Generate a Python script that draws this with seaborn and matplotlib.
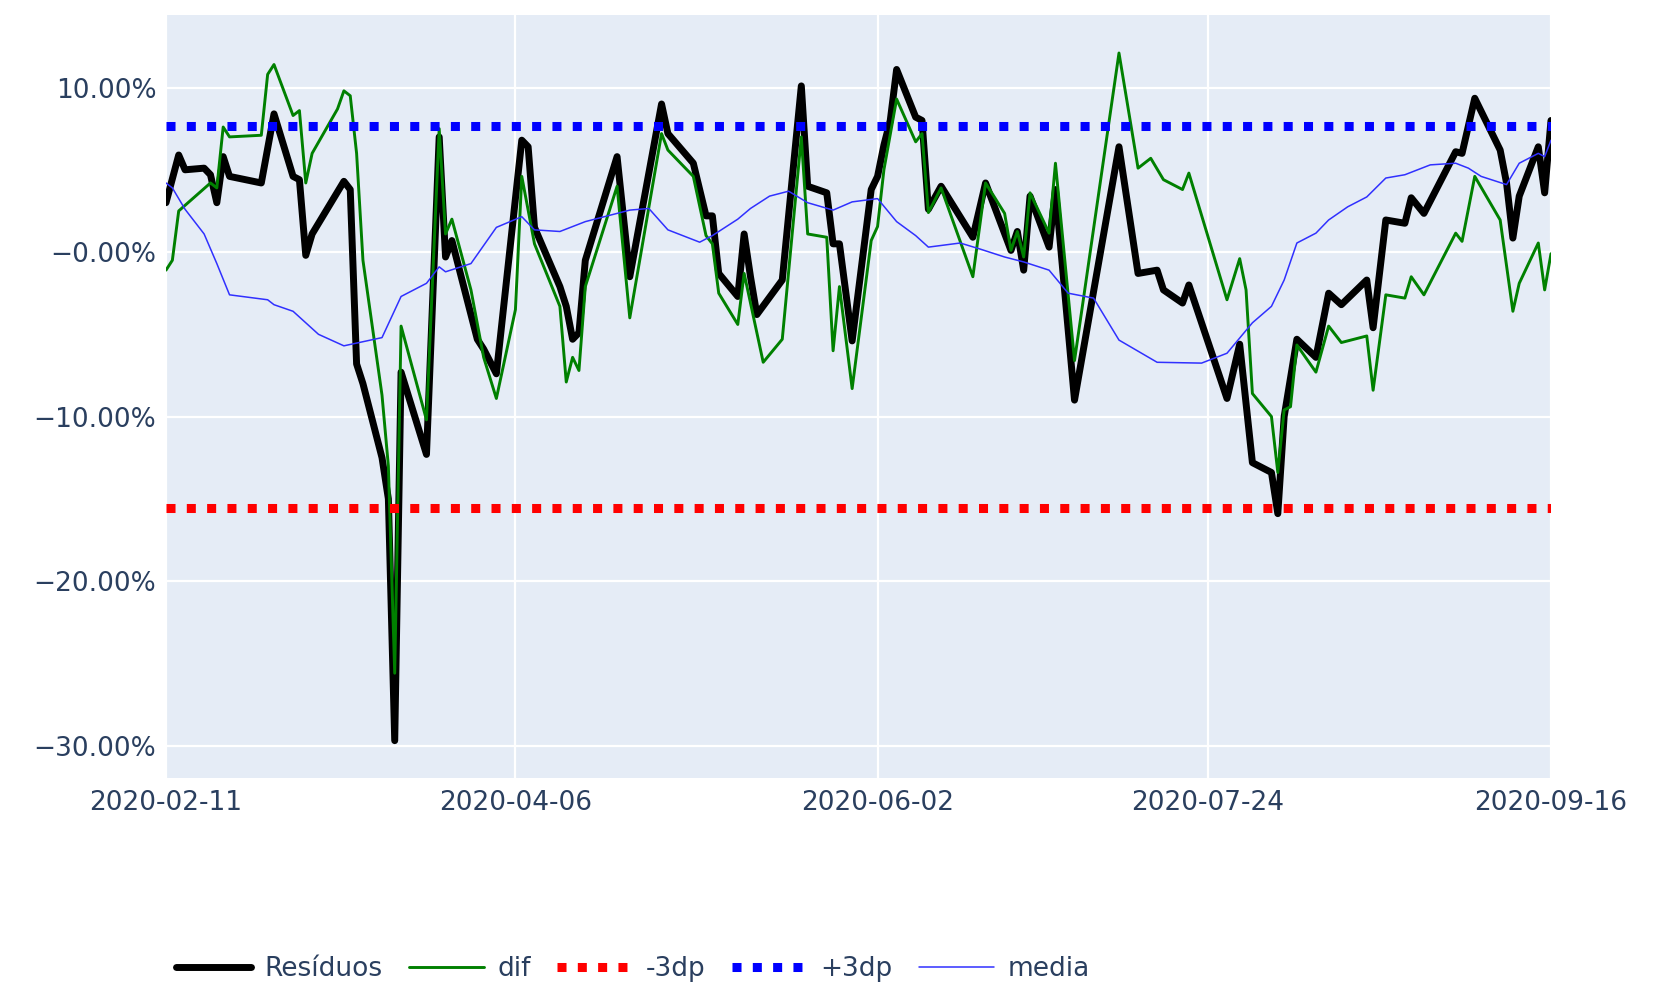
import numpy as np
import pandas as pd
import matplotlib
matplotlib.use("Agg")
import matplotlib.pyplot as plt
import seaborn as sns

# ---------------- data (day offsets from start date, values in %) ----------------
start_date = "2020-02-11"

res_day = [0, 2, 3, 6, 7, 8, 9, 10, 15, 17, 20, 21, 22, 23, 28, 29, 30, 31, 34, 35,
           36, 37, 41, 43, 44, 45, 49, 50, 52, 56, 57, 58, 62, 63, 64, 65, 66, 71, 73,
           78, 79, 83, 85, 86, 87, 90, 91, 92, 93, 97, 100, 101, 104, 105, 106, 108,
           111, 112, 113, 114, 115, 118, 119, 120, 122, 127, 129, 133, 134, 135, 136,
           139, 140, 143, 150, 153, 156, 157, 160, 161, 167, 169, 171, 174, 175, 176,
           178, 181, 183, 185, 189, 190, 192, 195, 196, 198, 203, 204, 206, 210, 211,
           212, 213, 216, 217, 218]
res_val = [3.0, 5.9, 5.0, 5.1, 4.7, 3.0, 5.8, 4.6, 4.2, 8.4, 4.6, 4.4, -0.2, 1.1, 4.3,
           3.8, -6.8, -8.0, -12.5, -15.0, -29.7, -7.3, -12.3, 7.0, -0.3, 0.7, -5.3,
           -5.9, -7.4, 6.8, 6.4, 1.5, -2.1, -3.3, -5.3, -4.9, -0.5, 5.8, -1.5, 9.0,
           7.2, 5.4, 2.2, 2.2, -1.3, -2.7, 1.1, -1.5, -3.8, -1.7, 10.1, 4.0, 3.6, 0.5,
           0.5, -5.4, 3.8, 4.6, 6.5, 8.0, 11.1, 8.2, 8.0, 2.6, 4.0, 0.9, 4.2, 0.1,
           1.25, -1.1, 3.4, 0.3, 3.8, -9.0, 6.4, -1.3, -1.1, -2.3, -3.1, -2.0, -8.9,
           -5.6, -12.8, -13.4, -15.9, -10.0, -5.3, -6.4, -2.5, -3.2, -1.7, -4.6, 1.95,
           1.75, 3.3, 2.35, 6.1, 6.0, 9.35, 6.2, 4.2, 0.85, 3.4, 6.4, 3.6, 8.0]

dif_day = [0, 1, 2, 7, 8, 9, 10, 15, 16, 17, 20, 21, 22, 23, 27, 28, 29, 30, 31, 34,
           35, 36, 37, 41, 43, 44, 45, 48, 50, 52, 55, 56, 58, 62, 63, 64, 65, 66, 71,
           73, 78, 79, 83, 85, 86, 87, 90, 91, 94, 97, 100, 101, 104, 105, 106, 108,
           111, 112, 113, 115, 118, 119, 120, 122, 127, 129, 132, 133, 134, 135, 136,
           139, 140, 143, 150, 153, 155, 157, 160, 161, 167, 169, 170, 171, 174, 175,
           176, 177, 178, 181, 183, 185, 189, 190, 192, 195, 196, 198, 203, 204, 206,
           210, 212, 213, 216, 217, 218]
dif_val = [-1.1, -0.5, 2.5, 4.2, 3.9, 7.6, 7.0, 7.1, 10.8, 11.4, 8.3, 8.6, 4.2, 6.0,
           8.7, 9.8, 9.5, 6.0, -0.5, -8.7, -13.0, -25.6, -4.5, -10.2, 7.5, 1.1, 2.0,
           -2.3, -6.4, -8.9, -3.5, 4.6, 0.5, -3.3, -7.9, -6.4, -7.2, -2.1, 4.0, -4.0,
           7.2, 6.2, 4.6, 1.0, 0.5, -2.5, -4.4, -1.3, -6.7, -5.3, 7.0, 1.1, 0.9, -6.0,
           -2.1, -8.3, 0.7, 1.55, 5.0, 9.3, 6.7, 7.2, 2.4, 3.9, -1.5, 4.2, 2.35, 0.1,
           1.25, -0.3, 3.6, 1.15, 5.4, -6.6, 12.1, 5.1, 5.7, 4.4, 3.8, 4.8, -2.9, -0.4,
           -2.3, -8.6, -10.0, -13.4, -9.6, -9.4, -5.65, -7.3, -4.5, -5.5, -5.1, -8.4,
           -2.6, -2.8, -1.5, -2.6, 1.15, 0.65, 4.6, 1.95, -3.6, -1.9, 0.55, -2.3, -0.1]

media_day = [0, 1, 3, 6, 8, 10, 16, 17, 20, 24, 28, 34, 37, 41, 43, 44, 48, 52, 56, 58,
             62, 66, 69, 73, 76, 79, 84, 86, 90, 92, 95, 98, 101, 105, 108, 112, 115,
             118, 120, 125, 128, 132, 135, 139, 142, 146, 150, 156, 163, 167, 171, 174,
             176, 178, 181, 183, 186, 189, 192, 195, 199, 203, 205, 207, 211, 213, 216,
             217, 218]
media_val = [4.2, 3.9, 2.6, 1.1, -0.7, -2.6, -2.9, -3.2, -3.6, -5.0, -5.7, -5.2, -2.7,
             -1.9, -0.9, -1.2, -0.7, 1.5, 2.15, 1.35, 1.25, 1.85, 2.15, 2.55, 2.65, 1.35,
             0.6, 1.0, 2.0, 2.65, 3.4, 3.7, 3.0, 2.55, 3.05, 3.25, 1.85, 1.0, 0.3, 0.55,
             0.2, -0.3, -0.6, -1.1, -2.5, -2.8, -5.35, -6.7, -6.75, -6.15, -4.3, -3.3,
             -1.7, 0.55, 1.15, 1.95, 2.75, 3.35, 4.5, 4.7, 5.3, 5.4, 5.1, 4.6, 4.1, 5.4,
             6.0, 5.8, 6.8]

minus_3dp = -15.58
plus_3dp = 7.66

series_labels = ["Resíduos", "dif", "-3dp", "+3dp", "media"]
xtick_dates = ["2020-02-11", "2020-04-06", "2020-06-02", "2020-07-24", "2020-09-16"]
ytick_vals = [10, 0, -10, -20, -30]
ytick_labels = ["10.00%", "\u22120.00%", "\u221210.00%", "\u221220.00%", "\u221230.00%"]

# ---------------- build frames ----------------
t0 = pd.Timestamp(start_date)
res_df = pd.DataFrame({"date": t0 + pd.to_timedelta(res_day, unit="D"), "v": res_val})
dif_df = pd.DataFrame({"date": t0 + pd.to_timedelta(dif_day, unit="D"), "v": dif_val})
med_df = pd.DataFrame({"date": t0 + pd.to_timedelta(media_day, unit="D"), "v": media_val})

# ---------------- style ----------------
sns.set_style("darkgrid", {"axes.facecolor": "#E5ECF6", "grid.color": "white",
                           "axes.edgecolor": "#E5ECF6"})
plt.rcParams["font.family"] = ["DejaVu Sans"]
text_color = "#2a3f5f"

fig, ax = plt.subplots(figsize=(16.75, 9.86), dpi=100)
fig.subplots_adjust(left=166 / 1675, right=1551 / 1675, top=1 - 15 / 986, bottom=1 - 778 / 986)

sns.lineplot(data=res_df, x="date", y="v", ax=ax, color="black", lw=5.0,
             label=series_labels[0], zorder=3, solid_joinstyle="round")
sns.lineplot(data=dif_df, x="date", y="v", ax=ax, color="green", lw=2.1,
             label=series_labels[1], zorder=4, solid_joinstyle="round")
ax.axhline(minus_3dp, color="red", lw=6.5, linestyle=(0, (1.0, 1.25)),
           label=series_labels[2], zorder=5)
ax.axhline(plus_3dp, color="blue", lw=6.5, linestyle=(0, (1.0, 1.25)),
           label=series_labels[3], zorder=6)
sns.lineplot(data=med_df, x="date", y="v", ax=ax, color="#3030ff", lw=1.1,
             label=series_labels[4], zorder=7, solid_joinstyle="round")

ax.set_xlim(pd.Timestamp(xtick_dates[0]), pd.Timestamp(xtick_dates[-1]))
ax.set_ylim(-31.97, 14.41)
ax.set_xticks(pd.to_datetime(xtick_dates))
ax.set_xticklabels(xtick_dates)
ax.set_yticks(ytick_vals)
ax.set_yticklabels(ytick_labels)
ax.grid(True, color="white", lw=1.6)
ax.set_xlabel("")
ax.set_ylabel("")
ax.tick_params(axis="both", length=0, labelsize=19, labelcolor=text_color)
ax.tick_params(axis="x", pad=9)
ax.tick_params(axis="y", pad=7)
for s in ax.spines.values():
    s.set_visible(False)

handles, labels = ax.get_legend_handles_labels()
ax.get_legend().remove()
fig.legend(handles, labels, loc="center left", bbox_to_anchor=(176 / 1675, 1 - 969 / 986),
           ncol=5, frameon=False, fontsize=19, handlelength=2.85, handletextpad=0.5,
           columnspacing=1.0, borderpad=0, borderaxespad=0, labelcolor=text_color)

fig.savefig("out.png", dpi=100)
